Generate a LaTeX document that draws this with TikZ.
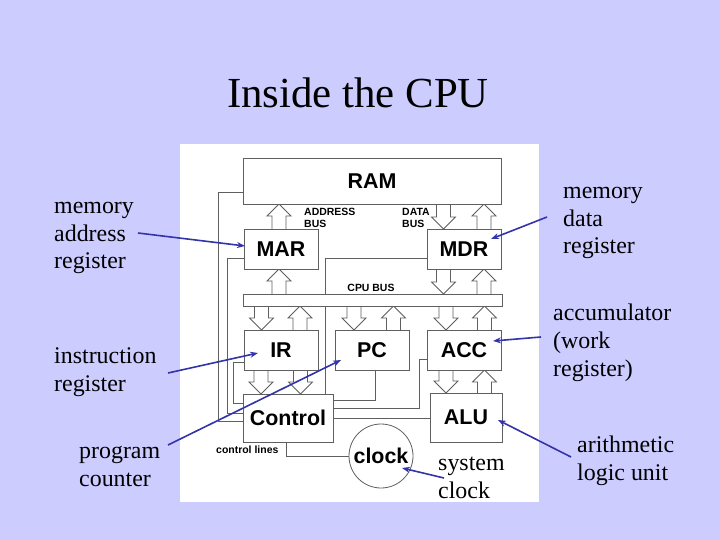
\documentclass[tikz,border=0pt]{standalone}
\usepackage{fontspec}
\setmainfont{Liberation Serif}
\newfontfamily\diagfont{Liberation Sans}
\usetikzlibrary{arrows.meta}
\definecolor{bgcol}{RGB}{204,204,255}
\definecolor{lincol}{RGB}{95,95,95}
\definecolor{ptrcol}{RGB}{51,51,170}
\newcommand\barrow[3]{% x centre, tail y, tip y
  \pgfmathsetmacro\hb{#3+(#2>#3?12:-12)}%
  \draw[busarrow] (#1-7,#2) -- (#1-7,\hb) -- (#1-12,\hb) -- (#1,#3) -- (#1+12,\hb) -- (#1+7,\hb) -- (#1+7,#2);
}
\begin{document}
\begin{tikzpicture}[x=1bp,y=-1bp,
  box/.style={draw=lincol,line width=0.8bp,fill=white,inner sep=0pt,
    font=\diagfont\bfseries\fontsize{21.5}{24}\selectfont},
  wire/.style={draw=lincol,line width=0.8bp},
  busarrow/.style={draw=lincol,line width=0.8bp,fill=white},
  pointer/.style={draw=ptrcol,line width=1.6bp,-{Stealth[length=8bp,width=6bp]}},
  lbl/.style={font=\fontsize{24}{28}\selectfont,align=left,inner sep=0pt,anchor=base west},
  small/.style={font=\diagfont\bfseries\fontsize{10.5}{12.5}\selectfont,inner sep=0pt,align=left,anchor=base west}]
\useasboundingbox (0,0) rectangle (720,540);
\fill[bgcol] (0,0) rectangle (720,540);
\fill[white] (180,144) rectangle (539,502);
% title
\node[font=\fontsize{43}{48}\selectfont,inner sep=0pt,anchor=base] (title) at (358,108) {Inside the CPU};
% wires
\draw[wire] (243,192) -- (218,192) -- (218,421) -- (243,421);
\draw[wire] (244,258) -- (227,258) -- (227,413) -- (243,413);
\draw[wire] (244,362) -- (233,362) -- (233,403) -- (243,403);
\draw[wire] (427,258) -- (325,258) -- (325,394);
\draw[wire] (375,370) -- (375,400) -- (333,400);
\draw[wire] (427,359) -- (419,359) -- (419,408) -- (333,408);
\draw[wire] (430,418) -- (333,418);
\draw[wire] (286,442) -- (286,456) -- (349,456);
% block arrows
\barrow{279}{229}{204}
\barrow{443.5}{204}{229}
\barrow{484}{229}{204}
\barrow{279}{294}{269}
\barrow{443.5}{269}{294}
\barrow{484}{294}{269}
\barrow{261.5}{306}{330}
\barrow{300}{330}{306}
\barrow{354}{306}{330}
\barrow{393.5}{330}{306}
\barrow{446}{306}{330}
\barrow{484.5}{330}{306}
\barrow{261}{370}{394}
\barrow{300.5}{370}{394}
\barrow{446}{370}{393}
\barrow{484.5}{393}{370}
% boxes
\node[box,minimum width=258bp,minimum height=46bp] (RAM) at (372,181) {RAM};
\node[box,minimum width=74bp,minimum height=40bp] (MAR) at (281,249) {MAR};
\node[box,minimum width=74bp,minimum height=40bp] (MDR) at (464,249) {MDR};
\node[box,minimum width=259bp,minimum height=12bp] (bus) at (372.5,300) {};
\node[box,minimum width=74bp,minimum height=40bp] (IR) at (281,350) {IR};
\node[box,minimum width=74bp,minimum height=40bp] (PC) at (372,350) {PC};
\node[box,minimum width=74bp,minimum height=40bp] (ACC) at (464,350) {ACC};
\node[box,minimum width=90bp,minimum height=48bp] (Control) at (288,418) {Control};
\node[box,minimum width=72bp,minimum height=49bp] (ALU) at (466,417.5) {ALU};
\node[box,circle,minimum size=64bp] (clock) at (381,456) {clock};
% small labels
\node[small] (addrbus) at (304,228) {ADDRESS\\BUS};
\node[small] (databus) at (402,228) {DATA\\BUS};
\node[small,anchor=base] (cpubus) at (371,291) {CPU BUS};
\node[small] (ctrllines) at (216,453) {control lines};
% outer labels (anchor = baseline of last line)
\node[lbl] (lmar) at (54,269) {memory\\address\\register};
\node[lbl] (lmdr) at (563,254) {memory\\data\\register};
\node[lbl] (lacc) at (553,376) {accumulator\\(work\\register)};
\node[lbl] (lir) at (54,391) {instruction\\register};
\node[lbl] (lpc) at (79,486) {program\\counter};
\node[lbl] (lclk) at (438,498) {system\\clock};
\node[lbl] (lalu) at (577,480) {arithmetic\\logic unit};
% pointers
\coordinate (sMAR) at (138,233); \coordinate (eMAR) at (245,246);
\coordinate (sMDR) at (547,217); \coordinate (eMDR) at (491,239);
\coordinate (sIR) at (168,373);  \coordinate (eIR) at (258,353);
\coordinate (sPC) at (168,445);  \coordinate (ePC) at (341,360);
\coordinate (sACC) at (541,337); \coordinate (eACC) at (493,341);
\coordinate (sALU) at (571,457); \coordinate (eALU) at (498,420);
\coordinate (sCLK) at (444,478); \coordinate (eCLK) at (402,468);
\draw[pointer] (sMAR) -- (eMAR);
\draw[pointer] (sMDR) -- (eMDR);
\draw[pointer] (sIR) -- (eIR);
\draw[pointer] (sPC) -- (ePC);
\draw[pointer] (sACC) -- (eACC);
\draw[pointer] (sALU) -- (eALU);
\draw[pointer] (sCLK) -- (eCLK);
\end{tikzpicture}
\end{document}
